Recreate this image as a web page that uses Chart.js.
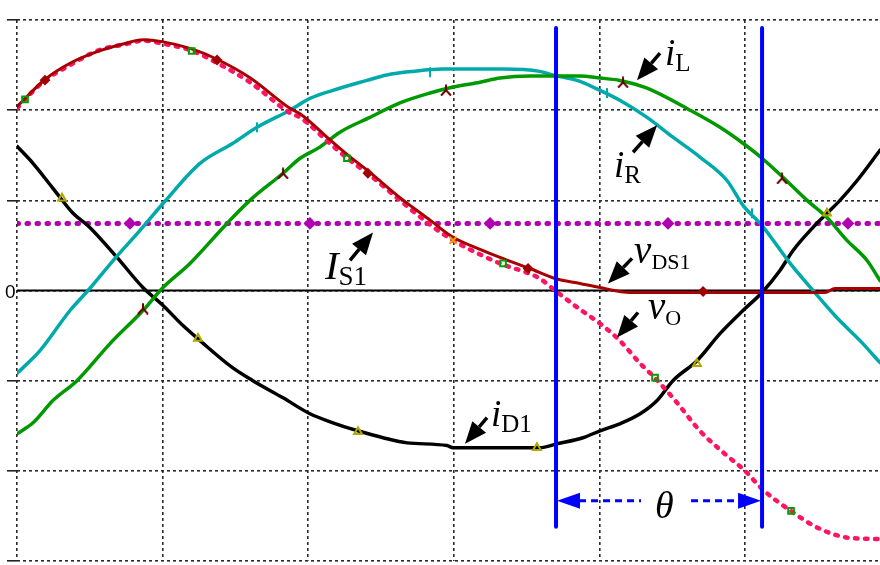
<!DOCTYPE html>
<html>
<head>
<meta charset="utf-8">
<script src="https://cdn.jsdelivr.net/npm/chart.js@4.4.0/dist/chart.umd.min.js"></script>
<style>
  html, body { margin: 0; padding: 0; background: #fff; }
  #wrap { width: 880px; height: 565px; }
</style>
</head>
<body>
<div id="wrap"><canvas id="c" width="880" height="565"></canvas></div>
<script>
// Horizontal axis: time in grid divisions; vertical axis: amplitude in grid divisions.
const X_MAX = 5.927;
const Y_TICKS = [-3, -2, -1, 0, 1, 2, 3];

// Switching interval between the two blue markers (theta)
const thetaStart = 3.702;
const thetaEnd = 5.117;

// Output voltage v_O
const vO = [[0,2.02],[0.055,2.12],[0.192,2.33],[0.364,2.5],[0.57,2.67],[0.742,2.73],[0.865,2.77],
  [0.996,2.74],[1.2,2.66],[1.367,2.53],[1.6,2.31],[1.875,1.97],[1.944,1.92],[2.15,1.63],[2.266,1.47],
  [2.424,1.28],[2.63,1.0],[2.837,0.73],[2.995,0.556],[3.18,0.40],[3.317,0.30],[3.59,0.133],[3.695,0],
  [3.867,-0.21],[4.004,-0.367],[4.14,-0.556],[4.28,-0.81],[4.38,-0.967],[4.52,-1.22],[4.69,-1.556],
  [4.86,-1.81],[5.0,-2.0],[5.117,-2.2],[5.31,-2.44],[5.515,-2.644],[5.72,-2.744],[5.927,-2.756]];

// Switch voltage v_DS1
const vDS1 = [[0,2.04],[0.192,2.34],[0.364,2.52],[0.57,2.66],[0.742,2.74],[0.865,2.78],[0.996,2.76],
  [1.2,2.68],[1.367,2.57],[1.6,2.36],[1.875,2.02],[1.944,1.96],[2.15,1.67],[2.266,1.51],[2.424,1.31],
  [2.63,1.03],[2.837,0.78],[2.995,0.59],[3.18,0.456],[3.317,0.367],[3.523,0.244],[3.695,0.133],
  [3.867,0.078],[4.004,0.033],[4.21,-0.022],[4.69,-0.022],[5.55,-0.022],[5.618,0.022],[5.927,0.022]];

// Load current i_R
const iR = [[0,-0.92],[0.158,-0.667],[0.364,-0.222],[0.5,0.022],[0.673,0.356],[0.845,0.667],[1.016,0.99],
  [1.257,1.41],[1.48,1.63],[1.648,1.81],[1.875,2.0],[2.012,2.13],[2.17,2.22],[2.404,2.33],[2.54,2.39],
  [2.72,2.43],[2.926,2.456],[3.338,2.456],[3.59,2.43],[3.68,2.39],[3.846,2.33],[4.004,2.22],[4.14,2.11],
  [4.327,1.92],[4.505,1.7],[4.69,1.48],[4.876,1.22],[4.986,0.944],[5.117,0.72],[5.31,0.3],[5.467,0],
  [5.63,-0.3],[5.79,-0.556],[5.927,-0.8]];

// Inductor current i_L
const iL = [[0,-1.59],[0.11,-1.467],[0.247,-1.22],[0.412,-1.0],[0.639,-0.589],[0.865,-0.222],[1.003,0.033],
  [1.188,0.3],[1.442,0.744],[1.6,1.0],[1.827,1.3],[1.944,1.467],[2.08,1.59],[2.218,1.756],[2.424,1.92],
  [2.63,2.08],[2.837,2.19],[2.995,2.256],[3.18,2.31],[3.317,2.356],[3.523,2.378],[3.867,2.378],
  [4.004,2.356],[4.14,2.33],[4.327,2.244],[4.622,2.0],[4.828,1.81],[4.986,1.633],[5.117,1.467],
  [5.26,1.256],[5.426,1.0],[5.563,0.81],[5.7,0.556],[5.838,0.333],[5.927,0.11]];

// Diode current i_D1
const iD1 = [[0,1.6],[0.11,1.41],[0.247,1.133],[0.385,0.856],[0.5,0.7],[0.687,0.367],[0.865,0.033],
  [1.003,-0.167],[1.14,-0.389],[1.257,-0.556],[1.48,-0.856],[1.62,-1.0],[1.827,-1.19],[2.012,-1.367],
  [2.17,-1.467],[2.342,-1.556],[2.514,-1.633],[2.68,-1.69],[2.953,-1.72],[2.995,-1.744],[3.59,-1.744],
  [3.71,-1.7],[3.887,-1.633],[4.004,-1.556],[4.14,-1.478],[4.28,-1.367],[4.396,-1.22],[4.505,-1.0],
  [4.67,-0.778],[4.828,-0.478],[4.986,-0.222],[5.117,-0.022],[5.24,0.222],[5.33,0.444],[5.467,0.7],
  [5.563,0.856],[5.652,1.0],[5.77,1.22],[5.927,1.556]];

// Switch current level I_S1
const IS1_LEVEL = 0.744;
const IS1 = [[0,IS1_LEVEL],[X_MAX,IS1_LEVEL]];

// Trace markers
const vOMarks   = [[0.055,2.12],[1.2,2.656],[2.266,1.467],[3.338,0.30],[4.382,-0.967],[5.316,-2.444]];
const vDS1Marks = [[0.192,2.333],[1.374,2.556],[2.41,1.3],[3.51,0.244],[4.712,-0.011]];
const iRMarks   = [[1.648,1.81],[2.837,2.42],[4.052,2.19],[5.048,0.856]];
const iLMarks   = [[0.865,-0.2],[1.827,1.3],[2.946,2.222],[4.162,2.31],[5.254,1.244]];
const iD1Marks  = [[0.309,1.022],[1.243,-0.533],[2.342,-1.567],[3.571,-1.744],[4.67,-0.811],[5.563,0.856]];
const IS1Marks  = [[0.776,IS1_LEVEL],[2.012,IS1_LEVEL],[3.249,IS1_LEVEL],[4.471,IS1_LEVEL],[5.707,IS1_LEVEL]];
const extraMarks = [[2.995,0.556]];

// Callout labels: main symbol, subscript, anchor (left, baseline) and arrow tip/tail
const callouts = [
  { main: 'i', sub: 'L',   at: [4.451, 2.50],  tip: [4.258, 2.333], tail: [4.416, 2.633], size: 37, subSize: 25 },
  { main: 'i', sub: 'R',   at: [4.10, 1.256],  tip: [4.396, 1.833], tail: [4.231, 1.533], size: 37, subSize: 25 },
  { main: 'I', sub: 'S1',  at: [2.115, 0.133], tip: [2.445, 0.644], tail: [2.287, 0.333], size: 41, subSize: 27 },
  { main: 'v', sub: 'DS1', at: [4.238, 0.30],  tip: [4.059, 0.078], tail: [4.224, 0.356], size: 39, subSize: 22 },
  { main: 'v', sub: 'O',   at: [4.334, -0.311],tip: [4.121, -0.522],tail: [4.265, -0.244],size: 39, subSize: 22 },
  { main: 'i', sub: 'D1',  at: [3.255, -1.5],  tip: [3.077, -1.70], tail: [3.228, -1.411],size: 37, subSize: 25 }
];
const thetaLabel = { text: 'θ', at: [4.382, -2.522], lineY: -2.333 };
const zeroLabel = '0';

function triMarker(color) {
  const c = document.createElement('canvas');
  c.width = 12; c.height = 12;
  const g = c.getContext('2d');
  g.strokeStyle = color; g.lineWidth = 2;
  g.beginPath();
  g.moveTo(6, 0.5); g.lineTo(6, 6);
  g.lineTo(1, 11.5);
  g.moveTo(6, 6); g.lineTo(11, 11.5);
  g.stroke();
  return c;
}

function trace(data, color, width, order, extra) {
  return Object.assign({
    data, borderColor: color, borderWidth: width, pointRadius: 0, fill: false,
    cubicInterpolationMode: 'monotone', order, borderJoinStyle: 'round', borderCapStyle: 'round'
  }, extra || {});
}

function marks(data, style, color, radius, order, extra) {
  return Object.assign({
    type: 'scatter', data, showLine: false, pointStyle: style, pointRadius: radius,
    pointBorderColor: color, pointBackgroundColor: 'rgba(0,0,0,0)', pointBorderWidth: 2, order
  }, extra || {});
}

function drawArrow(ctx, x0, y0, x1, y1) {
  const ang = Math.atan2(y1 - y0, x1 - x0);
  const headLen = 22, headHalf = 9;
  const bx = x1 - headLen * Math.cos(ang), by = y1 - headLen * Math.sin(ang);
  ctx.strokeStyle = '#000'; ctx.fillStyle = '#000'; ctx.lineWidth = 3.5; ctx.setLineDash([]);
  ctx.beginPath(); ctx.moveTo(x0, y0); ctx.lineTo(bx, by); ctx.stroke();
  ctx.beginPath();
  ctx.moveTo(x1, y1);
  ctx.lineTo(bx + headHalf * Math.sin(ang), by - headHalf * Math.cos(ang));
  ctx.lineTo(bx - headHalf * Math.sin(ang), by + headHalf * Math.cos(ang));
  ctx.closePath(); ctx.fill();
}

function arrowHead(ctx, tipX, y, dir) {
  // dir = -1 points left, +1 points right
  ctx.beginPath();
  ctx.moveTo(tipX, y);
  ctx.lineTo(tipX - dir * 23, y - 8);
  ctx.lineTo(tipX - dir * 23, y + 8);
  ctx.closePath(); ctx.fill();
}

const calloutPlugin = {
  id: 'callouts',
  afterDatasetsDraw(chart) {
    const { ctx, scales: { x, y } } = chart;
    ctx.save();
    // Zero label on the amplitude axis
    ctx.fillStyle = '#000';
    ctx.font = '19px "Liberation Sans", Arial, sans-serif';
    ctx.textAlign = 'left'; ctx.textBaseline = 'middle';
    ctx.fillText(zeroLabel, 5, y.getPixelForValue(0) + 2);

    // Arrows and trace names
    ctx.textBaseline = 'alphabetic';
    for (const c of callouts) {
      drawArrow(ctx, x.getPixelForValue(c.tail[0]), y.getPixelForValue(c.tail[1]),
                x.getPixelForValue(c.tip[0]), y.getPixelForValue(c.tip[1]));
      const px = x.getPixelForValue(c.at[0]), py = y.getPixelForValue(c.at[1]);
      ctx.fillStyle = '#000';
      ctx.font = 'italic ' + c.size + 'px "Liberation Serif", "Times New Roman", serif';
      ctx.fillText(c.main, px, py);
      const w = ctx.measureText(c.main).width;
      ctx.font = c.subSize + 'px "Liberation Serif", "Times New Roman", serif';
      ctx.fillText(c.sub, px + w, py + 6);
    }

    // Theta span between the two blue markers
    const ly = y.getPixelForValue(thetaLabel.lineY);
    const xa = x.getPixelForValue(thetaStart), xb = x.getPixelForValue(thetaEnd);
    const tx = x.getPixelForValue(thetaLabel.at[0]);
    ctx.fillStyle = '#0000ff'; ctx.strokeStyle = '#0000ff';
    arrowHead(ctx, xa + 1, ly, -1);
    arrowHead(ctx, xb - 1, ly, 1);
    ctx.lineWidth = 3; ctx.setLineDash([7, 5]);
    ctx.beginPath();
    ctx.moveTo(xa + 23, ly); ctx.lineTo(tx - 14, ly);
    ctx.moveTo(tx + 36, ly); ctx.lineTo(xb - 23, ly);
    ctx.stroke();
    ctx.setLineDash([]);
    ctx.fillStyle = '#000';
    ctx.font = 'italic 38px "Liberation Serif", "Times New Roman", serif';
    ctx.fillText(thetaLabel.text, tx, y.getPixelForValue(thetaLabel.at[1]));
    ctx.restore();
  }
};

const ctx = document.getElementById('c').getContext('2d');
new Chart(ctx, {
  type: 'line',
  data: {
    datasets: [
      // blue switching markers
      trace([[thetaStart, 2.91], [thetaStart, -2.62]], '#0000ff', 4, 0, { cubicInterpolationMode: 'default' }),
      trace([[thetaEnd, 2.91], [thetaEnd, -2.62]], '#0000ff', 4, 0, { cubicInterpolationMode: 'default' }),
      marks(vOMarks, 'rect', '#00a000', 4, 1),
      marks(vDS1Marks, 'rectRot', '#a00000', 4, 1, { pointBackgroundColor: '#a00000' }),
      marks(iRMarks, 'line', '#00aaaa', 5, 1, { rotation: 90 }),
      marks(iLMarks, triMarker('#6a0000'), '#6a0000', 6, 1),
      marks(iD1Marks, 'triangle', '#b0a800', 4.5, 1),
      marks(IS1Marks, 'rectRot', '#b000b0', 5, 1, { pointBackgroundColor: '#b000b0' }),
      marks(extraMarks, 'crossRot', '#f0a000', 5, 1),
      trace(vDS1, '#a80000', 3, 3),
      trace(vO, '#ff1464', 4.5, 4, { borderDash: [2.5, 7.5] }),
      trace(iL, '#009900', 3.5, 5),
      trace(iR, '#00aaaa', 3.5, 5),
      trace(iD1, '#000000', 3.5, 5),
      trace(IS1, '#b000b0', 5, 6, { borderDash: [1.5, 8.5], cubicInterpolationMode: 'default' }),
      // zero reference
      trace([[0, 0], [X_MAX, 0]], '#000000', 2.2, 10, { cubicInterpolationMode: 'default', borderCapStyle: 'butt' })
    ]
  },
  options: {
    responsive: false,
    animation: false,
    events: [],
    layout: { autoPadding: false, padding: { top: 20, right: 0, bottom: 0, left: 0 } },
    plugins: { legend: { display: false }, tooltip: { enabled: false } },
    scales: {
      x: {
        type: 'linear', min: 0, max: X_MAX,
        ticks: { display: false, stepSize: 1, includeBounds: false },
        grid: { color: '#2a2a2a', lineWidth: 1.6, drawTicks: false },
        border: { display: false, dash: [3, 3] },
        afterFit: s => { s.height = 4; }
      },
      y: {
        type: 'linear', min: Y_TICKS[0], max: Y_TICKS[Y_TICKS.length - 1],
        ticks: { display: false, stepSize: 1 },
        grid: {
          color: '#2a2a2a', lineWidth: 1.6, tickLength: 10, tickWidth: 1.6,
          tickBorderDash: [10, 0],
          tickColor: c => (c.tick && c.tick.value === 0) ? 'rgba(0,0,0,0)' : '#222'
        },
        border: { display: false, dash: [3, 3] },
        afterFit: s => { s.width = 17; }
      }
    }
  },
  plugins: [calloutPlugin]
});
</script>
</body>
</html>
